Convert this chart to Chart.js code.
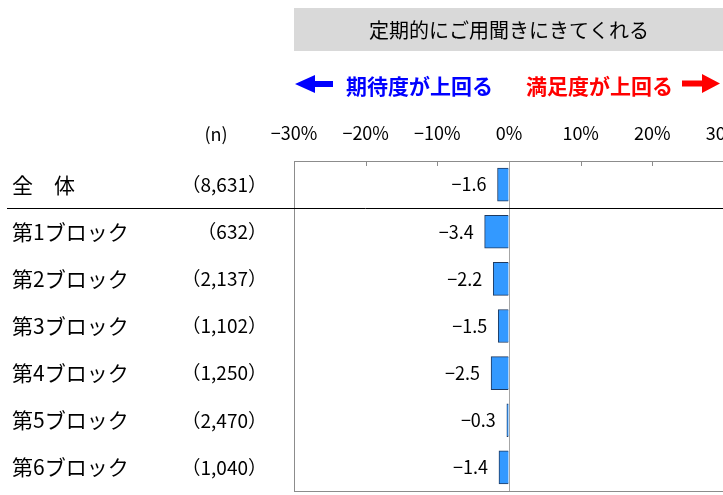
<!DOCTYPE html>
<html>
<head>
<meta charset="utf-8">
<script src="https://cdn.jsdelivr.net/npm/chart.js@4/dist/chart.umd.min.js"></script>
<style>
body{margin:0;background:#fff}
#wrap{width:723px;height:495px;overflow:hidden}
</style>
</head>
<body>
<div id="wrap"><canvas id="grafica" width="760" height="495"></canvas></div>
<script>
const categorias=["全　体","第1ブロック","第2ブロック","第3ブロック","第4ブロック","第5ブロック","第6ブロック"];
const muestras=["（8,631）","（632）","（2,137）","（1,102）","（1,250）","（2,470）","（1,040）"];
const valores=[-1.6,-3.4,-2.2,-1.5,-2.5,-0.3,-1.4];
const ticksX=[-30,-20,-10,0,10,20,30];
const titulo="定期的にご用聞きにきてくれる";
const leyendaIzq="期待度が上回る";
const leyendaDer="満足度が上回る";

const fuente='"Noto Sans CJK JP","Noto Sans",sans-serif';
const menos=v=>(v<0?"−":"")+Math.abs(v);

const extras={
    id:"extras",
    beforeDraw(chart){
        const c=chart.ctx, a=chart.chartArea;
        c.save();
        // caja del titulo
        c.fillStyle="#D9D9D9";
        c.fillRect(a.left,8,a.right-a.left,43);
        c.fillStyle="#000";
        c.font="20px "+fuente;
        c.textAlign="center";c.textBaseline="middle";
        c.fillText(titulo,(a.left+a.right)/2,30);
        // flechas
        c.fillStyle="#0000FF";
        c.beginPath();
        c.moveTo(295,84);c.lineTo(315,75);c.lineTo(315,81);c.lineTo(333,81);
        c.lineTo(333,87);c.lineTo(315,87);c.lineTo(315,93);c.closePath();c.fill();
        c.font="bold 21px "+fuente;
        c.textAlign="left";
        c.fillText(leyendaIzq,346,86);
        c.fillStyle="#FF0000";
        c.fillText(leyendaDer,526,86);
        c.beginPath();
        c.moveTo(720,83.5);c.lineTo(702,74);c.lineTo(702,80.5);c.lineTo(682,80.5);
        c.lineTo(682,86.5);c.lineTo(702,86.5);c.lineTo(702,93);c.closePath();c.fill();
        c.fillStyle="#000";
        c.font="18px "+fuente;
        c.textAlign="center";
        c.fillText("(n)",216,134);
        c.restore();
    },
    afterDraw(chart){
        const c=chart.ctx, a=chart.chartArea;
        const sx=chart.scales.x, sy=chart.scales.y;
        c.save();
        c.strokeStyle="#8C8C8C";c.lineWidth=1;
        c.strokeRect(a.left+0.5,a.top+0.5,a.right-a.left,a.bottom-a.top);
        [-20,-10,10,20].forEach(v=>{
            const x=Math.round(sx.getPixelForValue(v))+0.5;
            c.beginPath();c.moveTo(x,a.top);c.lineTo(x,a.top+5);c.stroke();
        });
        // separador
        const ysep=Math.round((sy.getPixelForValue(0)+sy.getPixelForValue(1))/2)+0.5;
        c.strokeStyle="#000";
        c.beginPath();c.moveTo(7,ysep);c.lineTo(a.right,ysep);c.stroke();
        // etiquetas
        c.fillStyle="#000";c.textBaseline="middle";
        categorias.forEach((cat,i)=>{
            const y=sy.getPixelForValue(i);
            c.font="21px "+fuente;c.textAlign="left";
            c.fillText(cat,12,y);
            c.font="19px "+fuente;c.textAlign="right";
            c.fillText(muestras[i],267,y);
        });
        const meta=chart.getDatasetMeta(0);
        c.font="18px "+fuente;c.textAlign="right";
        meta.data.forEach((bar,i)=>{
            c.fillText(menos(valores[i].toFixed(1)),Math.min(bar.x,bar.base)-11,bar.y);
        });
        c.restore();
    }
};

new Chart(document.getElementById("grafica"),{
    type:"bar",
    data:{
        labels:categorias,
        datasets:[{
            data:valores,
            backgroundColor:"#3399FF",
            borderColor:"#1F3A60",
            borderWidth:1,
            barThickness:33
        }]
    },
    options:{
        responsive:false,
        animation:false,
        indexAxis:"y",
        layout:{padding:{left:294,right:36,top:121,bottom:4}},
        plugins:{legend:{display:false},title:{display:false},tooltip:{enabled:false}},
        scales:{
            x:{
                position:"top",
                min:-30,max:30,
                afterBuildTicks:s=>{s.ticks=ticksX.map(v=>({value:v}));},
                afterFit:s=>{s.height=40;},
                ticks:{
                    color:"#000",
                    font:{family:fuente,size:18},
                    padding:17,
                    maxRotation:0,
                    callback:v=>menos(v)+"%"
                },
                grid:{
                    drawTicks:false,
                    color:ctx=>ctx.tick&&ctx.tick.value===0?"#A6A6A6":"rgba(0,0,0,0)"
                },
                border:{display:false}
            },
            y:{
                display:false,
                grid:{display:false}
            }
        }
    },
    plugins:[extras]
});
</script>
</body>
</html>
